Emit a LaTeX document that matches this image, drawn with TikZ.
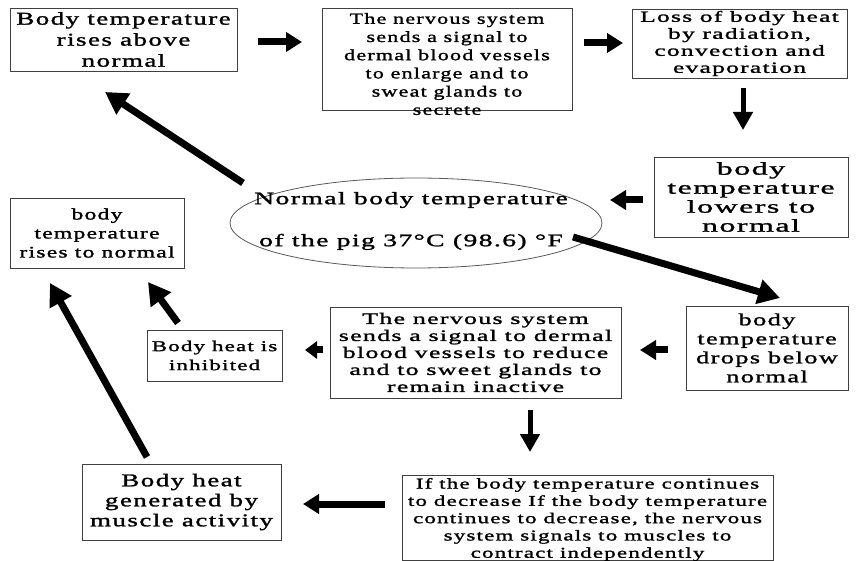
\documentclass[tikz,border=0pt]{standalone}
\usepackage{fontspec}
\setmainfont{Liberation Serif}[FakeStretch=1.5,LetterSpace=8,FakeBold=1.5]
\usetikzlibrary{arrows.meta,shapes.geometric}
\newcommand{\wf}[3]{\fontspec{Liberation Serif}[FakeStretch=#1,LetterSpace=8,FakeBold=1.5]\fontsize{#2}{#3}\selectfont}
\begin{document}
\begin{tikzpicture}[x=1pt,y=-1pt,
  box/.style={draw=black!75, line width=0.8pt, inner sep=0pt, align=center},
  txt/.style={inner sep=0pt, align=center},
  arrS/.style={line width=7pt, -{Triangle[length=16pt,width=19pt]}},
  arrV/.style={line width=5pt, -{Triangle[length=18pt,width=19pt]}},
  arrD/.style={line width=7pt, -{Triangle[length=22pt,width=24pt]}}]
\useasboundingbox (0,0) rectangle (865,561);
\fill[white] (0,0) rectangle (865,561);

% boxes
\node[box, minimum width=227pt, minimum height=63pt, font=\wf{1.5}{18}{21}] (A) at (123.5,39.5) {Body temperature\\rises above\\normal};
\node[box, minimum width=250pt, minimum height=102pt] (B) at (447,59) {};
\node[txt, font=\wf{1.42}{15.5}{18.2}] (Bt) at (447,64) {The nervous system\\sends a signal to\\dermal blood vessels\\to enlarge and to\\sweat glands to\\secrete};
\node[box, minimum width=215pt, minimum height=69pt, font=\wf{1.65}{15.5}{17}] (C) at (739.5,43.5) {Loss of body heat\\by radiation,\\convection and\\evaporation};
\node[box, minimum width=194pt, minimum height=80pt, font=\wf{1.78}{18}{19}] (D) at (751,197) {body\\temperature\\lowers to\\normal};
\node[ellipse, draw=black!65, line width=0.8pt, minimum width=372pt, minimum height=90pt, inner sep=0pt] (N) at (416,223) {};
\node[txt, font=\wf{1.58}{17.5}{42}] (Nt) at (411,221) {Normal body temperature\\of the pig 37°C (98.6) °F};
\node[box, minimum width=174pt, minimum height=70pt, font=\wf{1.47}{16}{19}] (H) at (97,233) {body\\temperature\\rises to normal};
\node[box, minimum width=135pt, minimum height=51pt, font=\wf{1.53}{15}{19}] (G) at (214.5,355.5) {Body heat is\\inhibited};
\node[box, minimum width=291pt, minimum height=91pt, font=\wf{1.62}{16}{17}] (F) at (475.5,352.5) {The nervous system\\sends a signal to dermal\\blood vessels to reduce\\and to sweet glands to\\remain inactive};
\node[box, minimum width=162pt, minimum height=84pt, font=\wf{1.55}{17}{19}] (E) at (767,348) {body\\temperature\\drops below\\normal};
\node[box, minimum width=371pt, minimum height=85pt] (I) at (587.5,517.5) {};
\node[txt, font=\wf{1.53}{15}{17.3}] (It) at (587.5,519.5) {If the body temperature continues\\to decrease If the body temperature\\continues to decrease, the nervous\\system signals to muscles to\\contract independently};
\node[box, minimum width=199pt, minimum height=76pt, font=\wf{1.5}{18}{20}] (J) at (181.5,502) {Body heat\\generated by\\muscle activity};

% arrow end points
\coordinate (a1s) at (258,42);  \coordinate (a1e) at (302,42);
\coordinate (a2s) at (584,43);  \coordinate (a2e) at (623,43);
\coordinate (a3s) at (743,88);  \coordinate (a3e) at (743,130);
\coordinate (a4s) at (643,200); \coordinate (a4e) at (610,200);
\coordinate (a5s) at (243,183); \coordinate (a5e) at (105,92);
\coordinate (a6s) at (573,237); \coordinate (a6e) at (780,298);
\coordinate (a7s) at (668,350); \coordinate (a7e) at (640,350);
\coordinate (a8s) at (323,350); \coordinate (a8e) at (305,350);
\coordinate (a9s) at (178,323); \coordinate (a9e) at (148,282);
\coordinate (a10s) at (530,410); \coordinate (a10e) at (530,452);
\coordinate (a11s) at (385,504); \coordinate (a11e) at (303,504);
\coordinate (a12s) at (147,457); \coordinate (a12e) at (50,283);

\draw[arrS] (a1s) -- (a1e);
\draw[arrS] (a2s) -- (a2e);
\draw[arrV] (a3s) -- (a3e);
\draw[arrS] (a4s) -- (a4e);
\draw[arrD] (a5s) -- (a5e);
\draw[arrD] (a6s) -- (a6e);
\draw[arrS] (a7s) -- (a7e);
\draw[line width=7pt, -{Triangle[length=12pt,width=17pt]}] (a8s) -- (a8e);
\draw[arrD] (a9s) -- (a9e);
\draw[arrV] (a10s) -- (a10e);
\draw[arrS] (a11s) -- (a11e);
\draw[arrD] (a12s) -- (a12e);
\end{tikzpicture}
\end{document}
